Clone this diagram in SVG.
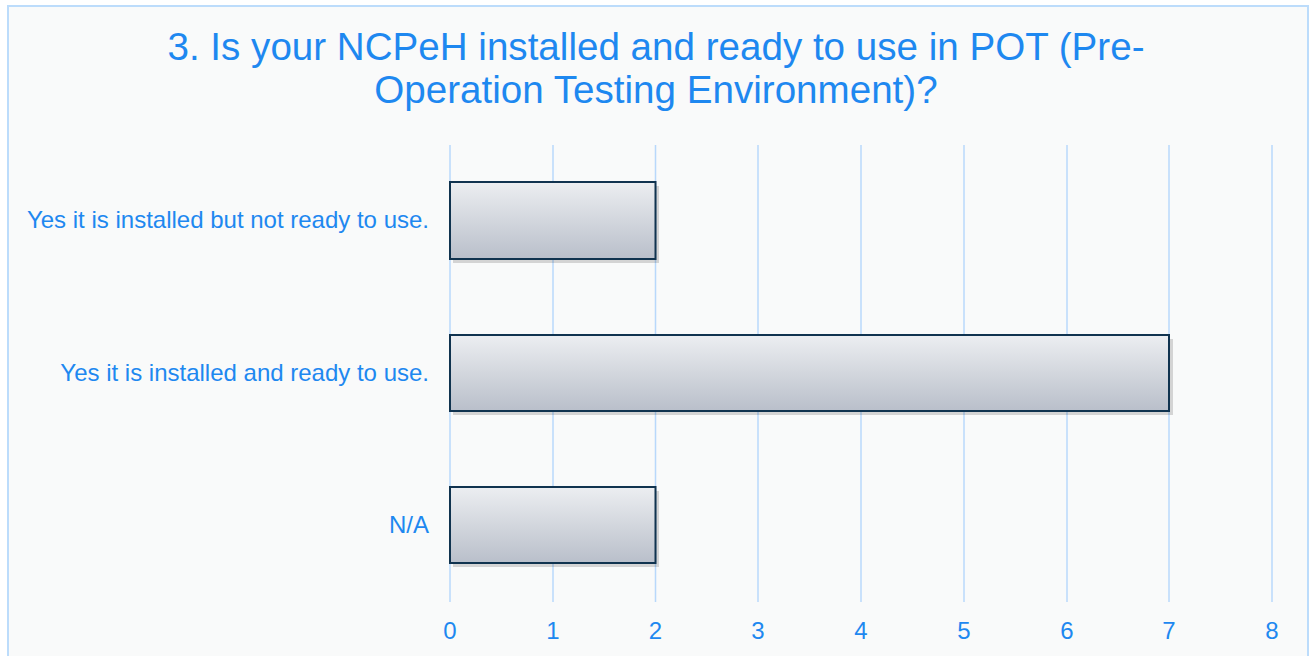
<svg xmlns="http://www.w3.org/2000/svg" width="1312" height="656" viewBox="0 0 1312 656">
<defs>
<linearGradient id="barGrad" x1="0" y1="0" x2="0" y2="1">
<stop offset="0" stop-color="#eceef1"/>
<stop offset="1" stop-color="#b9bfca"/>
</linearGradient>
<style>
.t{font-family:"Liberation Sans",Arial,sans-serif;fill:#1e88f0}
.title{font-size:38.6px}
.lbl{font-size:24px}
.grid{stroke:#b8d8fb;stroke-width:1.5}
.bar{fill:url(#barGrad);stroke:#10334f;stroke-width:2}
.shadow{fill:#000;opacity:0.15}
</style>
</defs>
<rect x="0" y="0" width="1312" height="656" fill="#ffffff"/>
<rect x="8" y="6" width="1300" height="660" fill="#f9fafa" stroke="#bcdcfb" stroke-width="2"/>
<text class="t title" x="656" y="60" text-anchor="middle">3. Is your NCPeH installed and ready to use in POT (Pre-</text>
<text class="t title" x="656" y="103" text-anchor="middle">Operation Testing Environment)?</text>
<g id="gridlines">
<line class="grid" x1="450" y1="145" x2="450" y2="602"/>
<line class="grid" x1="553" y1="145" x2="553" y2="602"/>
<line class="grid" x1="655.5" y1="145" x2="655.5" y2="602"/>
<line class="grid" x1="758" y1="145" x2="758" y2="602"/>
<line class="grid" x1="861" y1="145" x2="861" y2="602"/>
<line class="grid" x1="964" y1="145" x2="964" y2="602"/>
<line class="grid" x1="1067" y1="145" x2="1067" y2="602"/>
<line class="grid" x1="1169" y1="145" x2="1169" y2="602"/>
<line class="grid" x1="1272" y1="145" x2="1272" y2="602"/>
</g>
<g id="bar-not-ready">
<rect class="shadow" x="453" y="186" width="206" height="77"/>
<rect class="bar" x="450" y="182" width="205.5" height="77"/>
<text class="t lbl" x="429" y="228" text-anchor="end">Yes it is installed but not ready to use.</text>
</g>
<g id="bar-ready">
<rect class="shadow" x="453" y="339" width="720" height="76"/>
<rect class="bar" x="450" y="335" width="719" height="76"/>
<text class="t lbl" x="429" y="381" text-anchor="end">Yes it is installed and ready to use.</text>
</g>
<g id="bar-na">
<rect class="shadow" x="453" y="491" width="206" height="76"/>
<rect class="bar" x="450" y="487" width="205.5" height="76"/>
<text class="t lbl" x="429" y="533" text-anchor="end">N/A</text>
</g>
<g id="axis-labels">
<text class="t lbl" x="450" y="639" text-anchor="middle">0</text>
<text class="t lbl" x="553" y="639" text-anchor="middle">1</text>
<text class="t lbl" x="655.5" y="639" text-anchor="middle">2</text>
<text class="t lbl" x="758" y="639" text-anchor="middle">3</text>
<text class="t lbl" x="861" y="639" text-anchor="middle">4</text>
<text class="t lbl" x="964" y="639" text-anchor="middle">5</text>
<text class="t lbl" x="1067" y="639" text-anchor="middle">6</text>
<text class="t lbl" x="1169" y="639" text-anchor="middle">7</text>
<text class="t lbl" x="1272" y="639" text-anchor="middle">8</text>
</g>
</svg>
